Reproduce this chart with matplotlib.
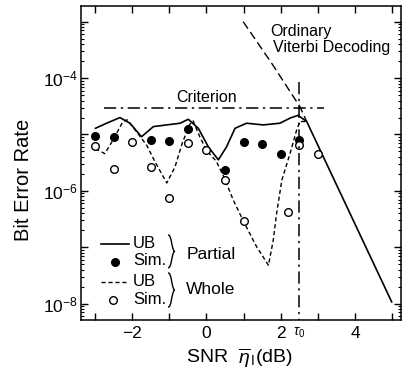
import numpy as np
import matplotlib
matplotlib.use("Agg")
import matplotlib.pyplot as plt
from matplotlib.path import Path
from matplotlib.patches import PathPatch
from matplotlib.ticker import FixedLocator, NullFormatter

plt.rcParams['font.family'] = ['Liberation Sans', 'DejaVu Sans']
plt.rcParams['mathtext.fontset'] = 'custom'
plt.rcParams['mathtext.rm'] = 'Liberation Sans'
plt.rcParams['mathtext.it'] = 'Liberation Sans:italic'

# exponents of BER (log10)
partial_ub_snr = [-2.99, -2.69, -2.33, -2.06, -1.75, -1.43, -1.07, -0.71, -0.49, -0.22,
                  0.05, 0.32, 0.54, 0.77, 1.08, 1.53, 1.98, 2.25, 2.47, 2.70, 4.99]
partial_ub_log = [-4.89, -4.80, -4.70, -4.80, -5.04, -4.86, -4.83, -4.80, -4.73, -4.89,
                  -5.22, -5.45, -5.22, -4.89, -4.80, -4.83, -4.80, -4.71, -4.66, -4.77, -7.97]

whole_ub_snr = [-2.99, -2.74, -2.52, -2.25, -2.14, -1.85, -1.61, -1.39, -1.07, -0.85,
                -0.65, -0.45, -0.36, -0.18, 0.0, 0.27, 0.50, 0.72, 0.99, 1.35, 1.67,
                1.80, 1.89, 2.03, 2.25, 2.43, 2.52, 2.70]
whole_ub_log = [-5.25, -5.34, -5.10, -4.77, -4.74, -4.98, -5.19, -5.48, -5.86, -5.58,
                -5.15, -4.82, -4.76, -5.04, -5.28, -5.48, -5.80, -6.16, -6.53, -6.99, -7.32,
                -6.87, -6.40, -5.81, -5.34, -4.92, -4.77, -4.77]

partial_sim_snr = [-3.0, -2.5, -1.5, -1.0, -0.5, 0.5, 1.0, 1.5, 2.0, 2.5]
partial_sim_log = [-5.02, -5.04, -5.10, -5.11, -4.91, -5.63, -5.14, -5.17, -5.35, -5.09]

whole_sim_snr = [-3.0, -2.5, -2.0, -1.5, -1.0, -0.5, 0.0, 0.5, 1.0, 2.2, 2.5, 3.0]
whole_sim_log = [-5.21, -5.62, -5.13, -5.58, -6.13, -5.15, -5.28, -5.80, -6.53, -6.38, -5.19, -5.35]

viterbi_snr = [0.99, 1.76, 2.52, 2.70]
viterbi_log = [-3.00, -3.74, -4.51, -4.77]

criterion_ber = 2.95e-5
criterion_span = [-2.76, 3.17]
tau0 = 2.5
tau0_top = 10 ** -4.07

xtick_pos = list(range(-3, 6))
xtick_labels = ['', '\u22122', '', '0', '', '2', '', '4', '']
ytick_exp = list(range(-8, -2))

fig = plt.figure(figsize=(4.03, 3.71), dpi=100)
ax = fig.add_axes([0.201, 0.1375, 0.794, 0.8465])
ax.set_yscale('log')

ax.plot(viterbi_snr, 10 ** np.array(viterbi_log), color='black', lw=1.0, dashes=(6, 3))
ax.plot(partial_ub_snr, 10 ** np.array(partial_ub_log), color='black', lw=1.2)
ax.plot(whole_ub_snr, 10 ** np.array(whole_ub_log), color='black', lw=1.0, dashes=(3, 2))
ax.plot(partial_sim_snr, 10 ** np.array(partial_sim_log), 'o', color='black', ms=5.5)
ax.plot(whole_sim_snr, 10 ** np.array(whole_sim_log), 'o', mfc='white', mec='black', mew=1.0, ms=5.5)

ax.plot(criterion_span, [criterion_ber, criterion_ber], color='black', lw=1.1, dashes=(8, 3, 1.5, 3))
ax.plot([tau0, tau0], [tau0_top, 1e-9], color='black', lw=1.1, dashes=(8, 3, 1.5, 3))

ax.text(0.0, 10 ** -4.34, 'Criterion', ha='center', va='center', fontsize=11.5)
ax.text(1.71, 10 ** -3.17, 'Ordinary', ha='left', va='center', fontsize=11.5)
ax.text(1.79, 10 ** -3.45, 'Viterbi Decoding', ha='left', va='center', fontsize=11.5)

ax.set_xlim(-3.38, 5.24)
ax.set_ylim(10 ** -8.29, 10 ** -2.72)

ax.set_xticks(xtick_pos)
ax.set_xticklabels(xtick_labels, fontsize=12.5)
ax.set_yticks([10.0 ** e for e in ytick_exp])
ax.set_yticklabels(['$10^{%d}$' % e if e % 2 == 0 else '' for e in ytick_exp], fontsize=12.5)
minors = [m * 10.0 ** e for e in range(-9, -2) for m in range(2, 10)]
ax.yaxis.set_minor_locator(FixedLocator(minors))
ax.yaxis.set_minor_formatter(NullFormatter())
ax.tick_params(which='both', direction='in', top=True, right=True)
ax.tick_params(which='major', length=5, width=1.0)
ax.tick_params(which='minor', length=2.5, width=0.8)
ax.tick_params(axis='y', pad=2)
ax.tick_params(axis='x', pad=4)
for s in ax.spines.values():
    s.set_linewidth(1.1)

ax.text(tau0, -0.041, r'$\tau_0$', transform=ax.get_xaxis_transform(),
        ha='center', va='center', fontsize=10)

ax.set_ylabel('Bit Error Rate', fontsize=14.5, va='center', ha='center')
ax.yaxis.set_label_coords(-0.18, 0.446)
ax.set_xlabel(r'SNR  $\overline{\eta}_{\,\mathrm{I}}$(dB)', fontsize=14, va='center', ha='center')
ax.xaxis.set_label_coords(0.494, -0.121)

# hand-made legend with braces
tr = ax.transAxes
ax.plot([0.063, 0.150], [0.242, 0.242], color='black', lw=1.2, transform=tr)
ax.plot([0.106], [0.186], 'o', color='black', ms=5.5, transform=tr)
ax.plot([0.0625, 0.144], [0.122, 0.122], color='black', lw=1.0, dashes=(3, 2), transform=tr)
ax.plot([0.1], [0.064], 'o', mfc='white', mec='black', mew=1.0, ms=5.5, transform=tr)
for y, s in [(0.245, 'UB'), (0.188, 'Sim.'), (0.124, 'UB'), (0.064, 'Sim.')]:
    ax.text(0.163, y, s, transform=tr, ha='left', va='center', fontsize=12)
ax.text(0.331, 0.207, 'Partial', transform=tr, ha='left', va='center', fontsize=12.5)
ax.text(0.328, 0.096, 'Whole', transform=tr, ha='left', va='center', fontsize=12.5)


def brace(x0, y_top, y_bot, w):
    ym = 0.5 * (y_top + y_bot)
    verts = [(x0, y_top), (x0 + w * 0.6, y_top), (x0 + w * 0.5, ym + 0.01), (x0 + w, ym),
             (x0 + w * 0.5, ym - 0.01), (x0 + w * 0.6, y_bot), (x0, y_bot)]
    codes = [Path.MOVETO, Path.CURVE4, Path.CURVE4, Path.CURVE4,
             Path.CURVE4, Path.CURVE4, Path.CURVE4]
    ax.add_patch(PathPatch(Path(verts, codes), fill=False, lw=1.0, ec='black', transform=tr))


brace(0.272, 0.271, 0.166, 0.02)
brace(0.272, 0.150, 0.041, 0.02)

fig.savefig('out.png', dpi=100)
